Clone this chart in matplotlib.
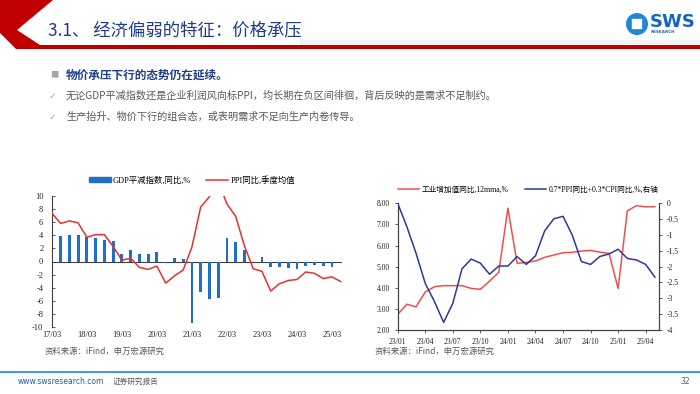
#!/usr/bin/env python3
"""
Slide 32: price pressure charts (GDP deflator / PPI, industry VA vs price index).
"""

import matplotlib
matplotlib.use('Agg')
import matplotlib.pyplot as plt
from matplotlib.patches import Polygon, Rectangle, Circle
from matplotlib.lines import Line2D

plt.rcParams['axes.unicode_minus'] = False

W, H = 700, 394

CJK = ['Noto Sans CJK SC', 'DejaVu Sans']
SERIF = ['Liberation Serif', 'Noto Sans CJK SC']

# ---- left chart: quarterly, 17/03 .. 25/06
q_ticks = ['17/03', '18/03', '19/03', '20/03', '21/03', '22/03', '23/03', '24/03', '25/03']
gdp_deflator = [4.5, 3.9, 4.1, 4.1, 3.7, 3.6, 3.3, 3.1,
                1.2, 1.7, 1.2, 1.2, 1.5, -0.2, 0.5, 0.4,
                -9.4, -4.7, -5.7, -5.5, 3.6, 3.0, 1.7, -0.1,
                0.7, -0.8, -0.9, -1.0, -1.1, -0.7, -0.5, -0.7,
                -0.8]
ppi_quarterly = [7.4, 5.8, 6.2, 5.9, 3.7, 4.1, 4.1, 2.3,
                 0.2, 0.5, -0.9, -1.2, -0.7, -3.3, -2.2, -1.3,
                 2.2, 8.3, 9.9, 12.2, 8.8, 6.9, 2.4, -1.1,
                 -1.5, -4.5, -3.4, -2.9, -2.75, -1.6, -1.8, -2.6,
                 -2.35, -3.05]

# ---- right chart: monthly, 23/01 .. 25/05
m_ticks = ['23/01', '23/04', '23/07', '23/10', '24/01', '24/04', '24/07', '24/10', '25/01', '25/04']
industry_va = [2.74, 3.22, 3.1, 3.8, 4.05, 4.1, 4.1, 4.1, 3.97, 3.93, 4.32, 4.73,
               7.77, 5.16, 5.2, 5.27, 5.44, 5.55, 5.66, 5.68, 5.74, 5.77, 5.69, 5.63,
               3.97, 7.64, 7.89, 7.83, 7.84]
price_mix = [0.0, -0.74, -1.58, -2.53, -3.1, -3.76, -3.16, -2.07, -1.76, -1.89, -2.24, -1.98,
             -1.98, -1.68, -1.93, -1.66, -0.87, -0.49, -0.41, -1.0, -1.84, -1.93, -1.68, -1.6,
             -1.45, -1.74, -1.79, -1.93, -2.33]

BLUE_BAR = '#1F6FC5'
RED = '#E8312F'
RED2 = '#F0504A'
NAVY = '#2B3A94'
TITLE_BLUE = '#1F3C88'
GRAY_TXT = '#595959'


def fx(x):
    return x / W


def fy(y):
    return 1 - y / H


def axes_px(fig, left, top, right, bottom):
    return fig.add_axes([fx(left), fy(bottom), (right - left) / W, (bottom - top) / H])


fig = plt.figure(figsize=(7, 3.94), dpi=100)
fig.patch.set_facecolor('white')

# ---- header decoration
deco = fig.add_axes([0, 0, 1, 1])
deco.set_xlim(0, W)
deco.set_ylim(H, 0)
deco.axis('off')
deco.add_patch(Rectangle((300, 40), 400, 5, color='#F3F3F3', lw=0))
deco.add_patch(Polygon([(0, 0), (53, 0), (17, 30), (40, 45), (700, 45), (700, 49),
                        (16, 49), (0, 33)], closed=True, color='#C00000', lw=0))
# logo
deco.add_patch(Circle((637, 24), 11, color='#1E88D8', lw=0))
deco.add_patch(Rectangle((631, 18), 12, 12, facecolor='white', edgecolor='#1E88D8', lw=1.2))
deco.text(650, 22, 'SWS', fontsize=13, fontweight='bold', color='#1565C0',
          family='DejaVu Sans', va='center', ha='left')
deco.text(651, 32, 'RESEARCH', fontsize=3, fontweight='bold', color='#1565C0',
          family='DejaVu Sans', va='center', ha='left')

# footer line
deco.add_patch(Rectangle((0, 371), 700, 1.6, color='#3AA0E0', lw=0))

fig.text(fx(48), fy(30), '3.1、 经济偏弱的特征：价格承压', family=CJK, fontsize=12.5,
         color=TITLE_BLUE, va='center', ha='left')

fig.text(fx(50), fy(75), '■', family=CJK, fontsize=6, color='#A6A6A6', va='center')
fig.text(fx(66), fy(75), '物价承压下行的态势仍在延续。', family=CJK, fontsize=8.4,
         fontweight='bold', color=TITLE_BLUE, va='center')
fig.text(fx(49), fy(96), '✓', family=['DejaVu Sans'], fontsize=6.5, color='#A6A6A6', va='center')
fig.text(fx(66), fy(96), '无论GDP平减指数还是企业利润风向标PPI，均长期在负区间徘徊，背后反映的是需求不足制约。',
         family=CJK, fontsize=7.3, color=GRAY_TXT, va='center')
fig.text(fx(49), fy(117), '✓', family=['DejaVu Sans'], fontsize=6.5, color='#A6A6A6', va='center')
fig.text(fx(66), fy(117), '生产抬升、物价下行的组合态，或表明需求不足向生产内卷传导。',
         family=CJK, fontsize=7.3, color=GRAY_TXT, va='center')

fig.text(fx(45), fy(351), '资料来源：iFind，申万宏源研究', family=CJK, fontsize=6,
         color=GRAY_TXT, va='center')
fig.text(fx(375), fy(351), '资料来源：iFind，申万宏源研究', family=CJK, fontsize=6,
         color=GRAY_TXT, va='center')
fig.text(fx(18), fy(382), 'www.swsresearch.com', family=['DejaVu Sans'], fontsize=5.5,
         color='#1F5FA8', va='center')
fig.text(fx(113), fy(382), '证券研究报告', family=CJK, fontsize=5.5, color=GRAY_TXT, va='center')
fig.text(fx(690), fy(382), '32', family=['DejaVu Sans'], fontsize=5.5, color=GRAY_TXT,
         va='center', ha='right')

# ---- left chart
ax1 = axes_px(fig, 51.7, 196, 342, 327)
xb = list(range(len(gdp_deflator)))
xl = list(range(len(ppi_quarterly)))
ax1.bar(xb, gdp_deflator, width=0.32, color=BLUE_BAR, zorder=2)
ax1.plot(xl, ppi_quarterly, color=RED, lw=1.1, zorder=3)
ax1.axhline(0, color='#404040', lw=0.8, zorder=1)
ax1.set_ylim(-10, 10)
ax1.set_xlim(-0.02, 33.15)
ax1.set_yticks(range(-10, 11, 2))
ax1.set_xticks(range(0, 33, 4))
ax1.set_xticklabels(q_ticks)
for s in ['top', 'right', 'bottom']:
    ax1.spines[s].set_visible(False)
ax1.spines['left'].set_color('#404040')
ax1.spines['left'].set_linewidth(0.8)
ax1.tick_params(axis='y', direction='in', length=2.5, width=0.6, colors='#404040', pad=6)
ax1.tick_params(axis='x', length=0, pad=3)
for lab in ax1.get_xticklabels() + ax1.get_yticklabels():
    lab.set_family(SERIF)
    lab.set_fontsize(6)
    lab.set_color('#222222')

h1 = [Rectangle((0, 0), 1, 1, color=BLUE_BAR), Line2D([], [], color=RED, lw=1.1)]
fig.legend(h1, ['GDP平减指数,同比,%', 'PPI同比,季度均值'], loc='center',
           bbox_to_anchor=(fx(192), fy(180)), ncol=2, frameon=False,
           prop={'family': SERIF, 'size': 6}, handlelength=2.6, handleheight=0.6,
           columnspacing=1.8, handletextpad=0.3)

# ---- right chart
ax2 = axes_px(fig, 397.7, 203.3, 659, 330)
xm = list(range(len(industry_va)))
ax2.plot(xm, industry_va, color=RED2, lw=1.1, zorder=3)
ax2.set_ylim(2, 8)
ax2.set_xlim(0, 28.45)
ax2.set_yticks(range(2, 9))
ax2.set_yticklabels([f'{v:.2f}' for v in range(2, 9)])
ax2.set_xticks(range(0, 28, 3))
ax2.set_xticklabels(m_ticks)
ax2.spines['top'].set_visible(False)

ax3 = ax2.twinx()
ax3.plot(xm, price_mix, color=NAVY, lw=1.1, zorder=3)
ax3.set_ylim(-4, 0)
ax3.set_yticks([0, -0.5, -1, -1.5, -2, -2.5, -3, -3.5, -4])
ax3.set_yticklabels(['0', '-0.5', '-1', '-1.5', '-2', '-2.5', '-3', '-3.5', '-4'])
ax3.spines['top'].set_visible(False)

for a in (ax2, ax3):
    for s in ['left', 'right', 'bottom']:
        a.spines[s].set_color('#404040')
        a.spines[s].set_linewidth(0.8)
    a.tick_params(direction='out', length=2.5, width=0.6, colors='#404040', pad=3)
    for lab in a.get_xticklabels() + a.get_yticklabels():
        lab.set_family(SERIF)
        lab.set_fontsize(5.5)
        lab.set_color('#222222')

h2 = [Line2D([], [], color=RED2, lw=1.1), Line2D([], [], color=NAVY, lw=1.1)]
fig.legend(h2, ['工业增加值同比,12mma,%', '0.7*PPI同比+0.3*CPI同比,%,右轴'], loc='center',
           bbox_to_anchor=(fx(528), fy(190)), ncol=2, frameon=False,
           prop={'family': SERIF, 'size': 5.5}, handlelength=2.8,
           columnspacing=2.2, handletextpad=0.3)

fig.savefig('out.png', dpi=100)
